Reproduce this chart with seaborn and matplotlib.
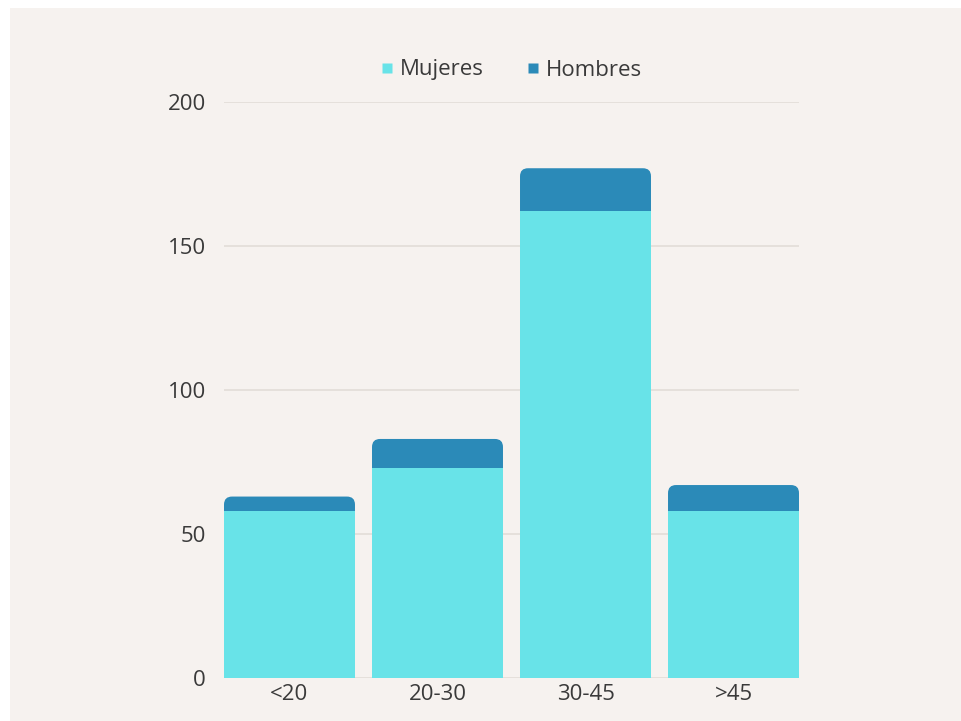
import numpy as np
import pandas as pd
import matplotlib
matplotlib.use("Agg")
import matplotlib.pyplot as plt
from matplotlib.patches import FancyBboxPatch, Rectangle
import seaborn as sns

# Age groups and counts per group
categories = ["<20", "20-30", "30-45", ">45"]
mujeres = [58, 73, 162, 58]
hombres = [5, 10, 15, 9]

C_MUJ = "#68e3e8"
C_HOM = "#2b8ab8"
BG = "#f6f2ef"
TXT = "#3a3a3a"
FS = 16

sns.set_theme(style="white")
plt.rcParams["font.family"] = ["Open Sans", "DejaVu Sans"]

df = pd.DataFrame({"grupo": categories, "Mujeres": mujeres, "Hombres": hombres})
df["total"] = df["Mujeres"] + df["Hombres"]

fig = plt.figure(figsize=(9.61, 7.21), dpi=100)
fig.patch.set_facecolor("white")
fig.add_artist(Rectangle((10 / 961, -0.1), 1.2, 1.1 - 8 / 721, transform=fig.transFigure,
                         facecolor=BG, edgecolor="none", zorder=-10))

ax = fig.add_axes([224 / 961, 1 - 678 / 721, 575 / 961, (678 - 102) / 721])
ax.set_facecolor(BG)

width = 0.885
sns.barplot(data=df, x="grupo", y="total", color=C_HOM, width=width,
            saturation=1, ax=ax, zorder=2, edgecolor="none", linewidth=0)
sns.barplot(data=df, x="grupo", y="Mujeres", color=C_MUJ, width=width,
            saturation=1, ax=ax, zorder=3, edgecolor="none", linewidth=0)

ax.set_xlim(-width / 2, len(categories) - 1 + width / 2)
ax.set_ylim(0, 200)

# Round the top corners of the stacked totals
n = len(categories)
totals = list(ax.patches[:n])
px_per_x = 575 / (ax.get_xlim()[1] - ax.get_xlim()[0])
px_per_y = (678 - 102) / 200
r_px = 8
for p in totals:
    x0, y0 = p.get_x(), p.get_y()
    w, h = p.get_width(), p.get_height()
    p.set_visible(False)
    rb = FancyBboxPatch((x0, y0), w, h,
                        boxstyle=f"round,pad=0,rounding_size={r_px / px_per_x}",
                        mutation_aspect=px_per_x / px_per_y,
                        facecolor=C_HOM, edgecolor="none", linewidth=0, zorder=2)
    ax.add_patch(rb)

ax.set_yticks([0, 50, 100, 150, 200])
ax.yaxis.grid(True, color="#e2ddd8", linewidth=1.2, zorder=0)
ax.set_axisbelow(True)
for s in ax.spines.values():
    s.set_visible(False)
ax.set_xlabel("")
ax.set_ylabel("")
ax.tick_params(axis="both", length=0, labelsize=FS, colors=TXT)
ax.tick_params(axis="y", pad=13)
ax.tick_params(axis="x", pad=4)

handles = [plt.Line2D([], [], marker="s", linestyle="none", markersize=7,
                      markerfacecolor=C_MUJ, markeredgecolor="none"),
           plt.Line2D([], [], marker="s", linestyle="none", markersize=7,
                      markerfacecolor=C_HOM, markeredgecolor="none")]
leg = fig.legend(handles, ["Mujeres", "Hombres"], loc="center",
                 bbox_to_anchor=(510 / 961, 1 - 70 / 721), ncol=2, frameon=False,
                 fontsize=FS, handletextpad=0.2, columnspacing=1.8,
                 handlelength=0.8)
for t in leg.get_texts():
    t.set_color(TXT)

fig.savefig("out.png", dpi=100, facecolor=fig.get_facecolor())
